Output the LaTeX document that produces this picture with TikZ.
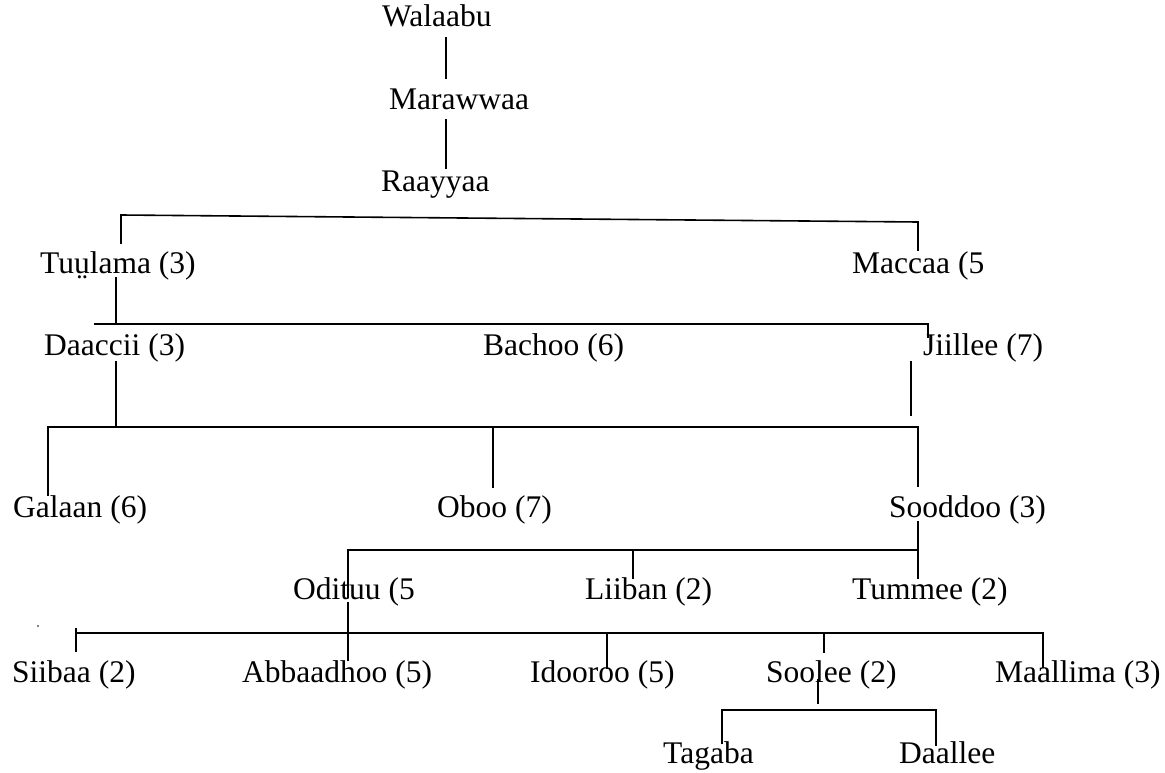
\documentclass[tikz,border=0pt]{standalone}
\usepackage{fontspec}
\setmainfont{Liberation Serif}
\begin{document}
\begin{tikzpicture}[x=1pt,y=-1pt,
  lbl/.style={anchor=base west, inner sep=0pt, font=\fontsize{31.5}{36}\selectfont},
  conn/.style={line width=1.6pt, line cap=rect}]
\useasboundingbox (0,0) rectangle (1165,773);
% labels
\node[lbl] (walaabu) at (382,27) {Walaabu};
\node[lbl] (marawwaa) at (389,110) {Marawwaa};
\node[lbl] (raayyaa) at (381,191) {Raayyaa};
\node[lbl] (tuulama) at (40,273) {Tuṳlama (3)};
\node[lbl] (maccaa) at (852,273) {Maccaa (5};
\node[lbl] (daaccii) at (44,355) {Daaccii (3)};
\node[lbl] (bachoo) at (483,355) {Bachoo (6)};
\node[lbl] (jiillee) at (923,355) {Jiillee (7)};
\node[lbl] (galaan) at (13,517) {Galaan (6)};
\node[lbl] (oboo) at (437,517) {Oboo (7)};
\node[lbl] (sooddoo) at (889,517) {Sooddoo (3)};
\node[lbl] (odituu) at (293,599) {Odituu (5};
\node[lbl] (liiban) at (585,599) {Liiban (2)};
\node[lbl] (tummee) at (852,599) {Tummee (2)};
\node[lbl] (siibaa) at (12,682) {Siibaa (2)};
\node[lbl] (abbaadhoo) at (242,682) {Abbaadhoo (5)};
\node[lbl] (idooroo) at (530,682) {Idooroo (5)};
\node[lbl] (soolee) at (766,682) {Soolee (2)};
\node[lbl] (maallima) at (995,682) {Maallima (3)};
\node[lbl] (tagaba) at (663,763) {Tagaba};
\node[lbl] (daallee) at (899,763) {Daallee};
% junction coordinates
\coordinate (w1) at (445.7,38);  \coordinate (w2) at (445.7,78);
\coordinate (m1) at (445.7,120); \coordinate (m2) at (445.7,168);
\coordinate (b1a) at (121,243); \coordinate (b1b) at (121,215);
\coordinate (b1c) at (918,222); \coordinate (b1d) at (918,250);
\coordinate (t1) at (116,278); \coordinate (t2) at (116,324);
\coordinate (b2a) at (95,324); \coordinate (b2b) at (928,324); \coordinate (b2c) at (928,337);
\coordinate (d1) at (116,362); \coordinate (d2) at (116,427);
\coordinate (j1) at (911,362); \coordinate (j2) at (911,415);
\coordinate (b3a) at (48,495); \coordinate (b3b) at (48,427);
\coordinate (b3c) at (918,427); \coordinate (b3d) at (918,486);
\coordinate (o1) at (493,427); \coordinate (o2) at (493,487);
\coordinate (s1) at (918,522); \coordinate (s2) at (918,578);
\coordinate (b4a) at (348,597); \coordinate (b4b) at (348,550); \coordinate (b4c) at (918,550);
\coordinate (l1) at (633,550); \coordinate (l2) at (633,578);
\coordinate (a1) at (348,603); \coordinate (a2) at (348,660);
\coordinate (b5a) at (76,633); \coordinate (b5b) at (1043,633);
\coordinate (k1) at (76,629); \coordinate (k2) at (76,651);
\coordinate (i1) at (607,633); \coordinate (i2) at (607,668);
\coordinate (so1) at (824,633); \coordinate (so2) at (824,652);
\coordinate (ma1) at (1043,633); \coordinate (ma2) at (1043,667);
\coordinate (sl1) at (818,680); \coordinate (sl2) at (818,703);
\coordinate (b6a) at (722,743); \coordinate (b6b) at (722,710);
\coordinate (b6c) at (936,710); \coordinate (b6d) at (936,745);
% connectors
\draw[conn] (w1) -- (w2);
\draw[conn] (m1) -- (m2);
\draw[conn] (b1a) -- (b1b) -- (b1c) -- (b1d);
\draw[conn] (t1) -- (t2);
\draw[conn] (b2a) -- (b2b) -- (b2c);
\draw[conn] (d1) -- (d2);
\draw[conn] (j1) -- (j2);
\draw[conn] (b3a) -- (b3b) -- (b3c) -- (b3d);
\draw[conn] (o1) -- (o2);
\draw[conn] (s1) -- (s2);
\draw[conn] (b4a) -- (b4b) -- (b4c);
\draw[conn] (l1) -- (l2);
\draw[conn] (a1) -- (a2);
\draw[conn] (b5a) -- (b5b);
\draw[conn] (k1) -- (k2);
\draw[conn] (i1) -- (i2);
\draw[conn] (so1) -- (so2);
\draw[conn] (ma1) -- (ma2);
\draw[conn] (sl1) -- (sl2);
\draw[conn] (b6a) -- (b6b) -- (b6c) -- (b6d);
\fill (38,626) circle (0.9);
\end{tikzpicture}
\end{document}
